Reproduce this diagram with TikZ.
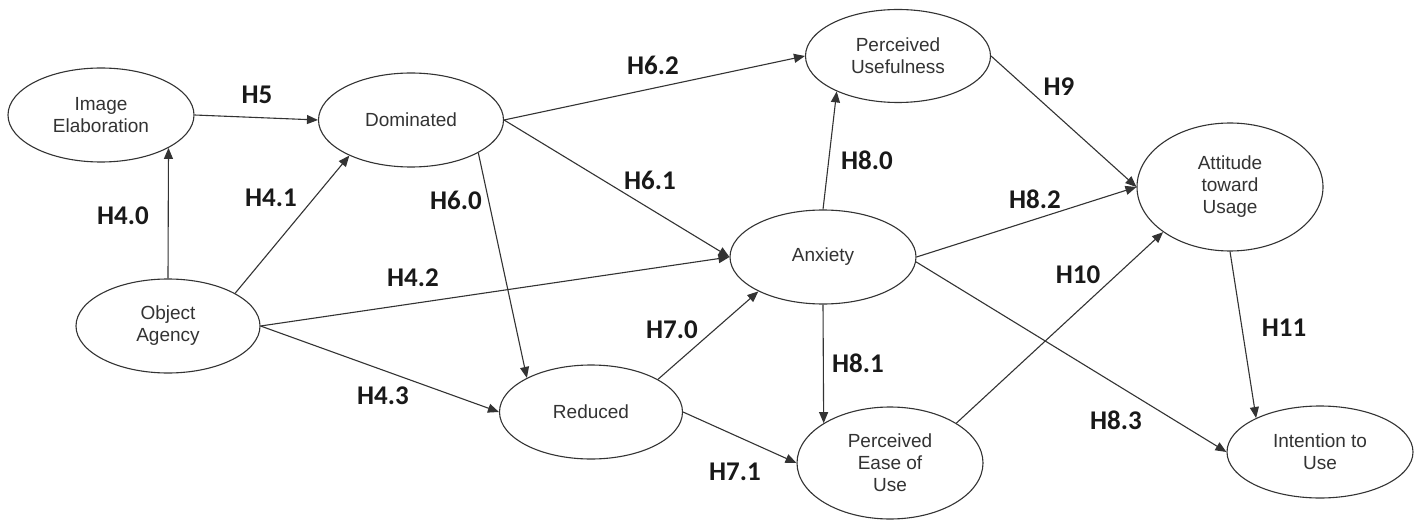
\documentclass[tikz,border=0pt]{standalone}
\usepackage{fontspec}
\setmainfont{Liberation Sans}
\newfontfamily\labfont{Carlito}
\usetikzlibrary{shapes.geometric,arrows.meta}
\begin{document}
\begin{tikzpicture}[x=1pt,y=-1pt,
  latent/.style={ellipse,draw=black!80,line width=1.1pt,inner sep=0pt,align=center,
     text=black!80,font=\fontsize{19}{22}\selectfont},
  conn/.style={draw=black!80,line width=1.1pt,-{Triangle[length=11pt,width=9pt]}},
  hyp/.style={font=\labfont\bfseries\fontsize{27}{30}\selectfont,text=black!90,inner sep=0pt}]
\useasboundingbox[fill=white] (0,0) rectangle (1420,521);
% nodes
\node[latent,minimum width=186pt,minimum height=94pt] (ie) at (101,115) {Image\\Elaboration};
\node[latent,minimum width=185pt,minimum height=94pt] (dom) at (411,120) {Dominated};
\node[latent,minimum width=185pt,minimum height=93pt] (pu) at (898,56) {Perceived\\Usefulness};
\node[latent,minimum width=186pt,minimum height=94pt] (anx) at (823,257) {Anxiety};
\node[latent,minimum width=186pt,minimum height=128pt] (att) at (1230,187) {Attitude\\toward\\Usage};
\node[latent,minimum width=186pt,minimum height=92pt] (int) at (1320,452) {Intention to\\Use};
\node[latent,minimum width=184pt,minimum height=94pt] (oa) at (168,326) {Object\\Agency};
\node[latent,minimum width=183pt,minimum height=94pt] (red) at (591,412) {Reduced};
\node[latent,minimum width=186pt,minimum height=112pt] (pe) at (890,463) {Perceived\\Ease of\\Use};
% connectors
\draw[conn] (ie.east) -- (dom.west);
\draw[conn] (oa.north) -- (ie.-26.6);
\draw[conn] (oa.26.6) -- (dom.-150.7);
\draw[conn] (dom.-26.9) -- (red.152.4);
\draw[conn] (dom.east) -- (pu.west);
\draw[conn] (dom.east) -- (anx.west);
\draw[conn] (oa.east) -- (anx.west);
\draw[conn] (oa.east) -- (red.west);
\draw[conn] (red.26.9) -- (anx.-152);
\draw[conn] (red.east) -- (pe.west);
\draw[conn] (anx.north) -- (pu.-150);
\draw[conn] (anx.south) -- (pe.149.2);
\draw[conn] (anx.east) -- (att.west);
\draw[conn] (anx.-3) -- (int.west);
\draw[conn] (pe.31.2) -- (att.214.1);
\draw[conn] (pu.east) -- (att.west);
\draw[conn] (att.south) -- (int.152.4);
% labels
\node[hyp] (l5) at (257,95) {H5};
\node[hyp] (l40) at (123,216) {H4.0};
\node[hyp] (l41) at (271,198) {H4.1};
\node[hyp] (l60) at (456,200) {H6.0};
\node[hyp] (l62) at (653,65) {H6.2};
\node[hyp] (l61) at (650,180) {H6.1};
\node[hyp] (l80) at (867,160) {H8.0};
\node[hyp] (l9) at (1059,87) {H9};
\node[hyp] (l82) at (1035,199) {H8.2};
\node[hyp] (l10) at (1078,275) {H10};
\node[hyp] (l11) at (1284,328) {H11};
\node[hyp] (l83) at (1116,420) {H8.3};
\node[hyp] (l42) at (413,278) {H4.2};
\node[hyp] (l43) at (383,396) {H4.3};
\node[hyp] (l70) at (672,330) {H7.0};
\node[hyp] (l81) at (858,363) {H8.1};
\node[hyp] (l71) at (735,472) {H7.1};
\end{tikzpicture}
\end{document}
